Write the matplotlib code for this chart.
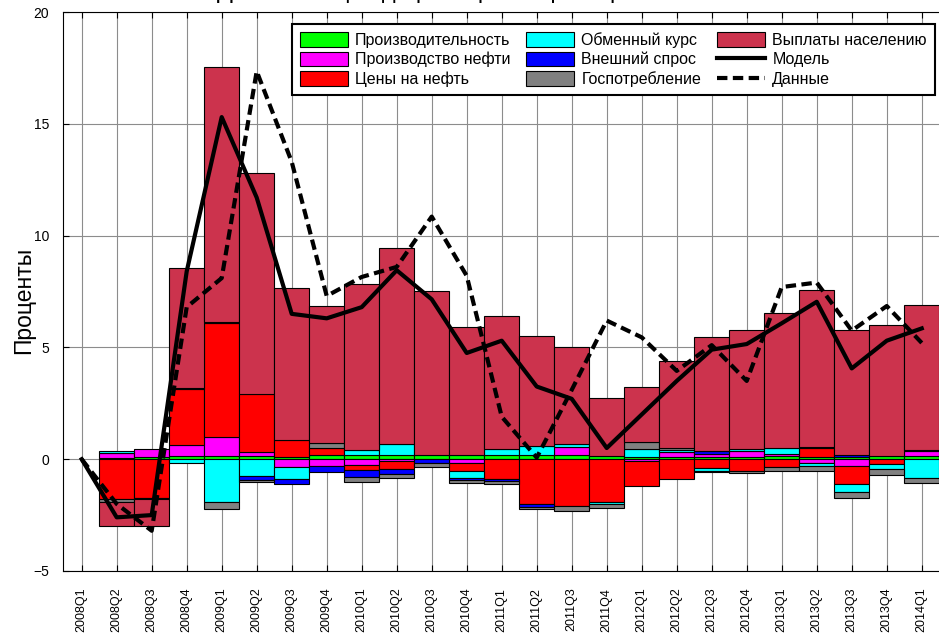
import matplotlib
matplotlib.use('Agg')
import matplotlib.pyplot as plt
import numpy as np
from matplotlib.patches import Patch
from matplotlib.lines import Line2D

FIG_W = 939
FIG_H = 633
FIG_DPI = 100

quarters = ['2008Q1', '2008Q2', '2008Q3', '2008Q4',
            '2009Q1', '2009Q2', '2009Q3', '2009Q4',
            '2010Q1', '2010Q2', '2010Q3', '2010Q4',
            '2011Q1', '2011Q2', '2011Q3', '2011Q4',
            '2012Q1', '2012Q2', '2012Q3', '2012Q4',
            '2013Q1', '2013Q2', '2013Q3', '2013Q4',
            '2014Q1']

# contributions, percent
productivity = [0, 0.04, 0.08, 0.13, 0.14, 0.13, 0.12, 0.2, 0.2, 0.2, 0.2, 0.2, 0.2,
                0.2, 0.2, 0.13, 0.12, 0.12, 0.12, 0.12, 0.13, 0.1, 0.1, 0.15, 0.15]
oil_output = [0, 0.25, 0.38, 0.5, 0.86, 0.2, -0.33, -0.31, -0.27, -0.1, 0, -0.19, 0,
              0, 0.35, 0, -0.08, 0.18, 0.13, 0.25, 0.1, -0.15, -0.31, 0, 0.22]
oil_price = [0, -1.8, -1.72, 2.5, 5.1, 2.6, 0.75, 0.31, -0.22, -0.33, 0, -0.35, -0.9,
             -2.0, -2.1, -1.9, -1.1, -0.9, -0.4, -0.53, -0.35, 0.38, -0.8, -0.22, 0]
exch_rate = [0, 0.08, 0, -0.15, -1.93, -0.76, -0.55, 0, 0.2, 0.47, 0, -0.3, 0.25,
             0.4, 0.15, -0.1, 0.35, 0.12, -0.12, 0.1, 0.27, -0.15, -0.37, -0.24, -0.85]
ext_demand = [0, 0, 0, 0.05, 0.05, -0.15, -0.24, -0.27, -0.3, -0.22, -0.15, -0.07, -0.07,
              -0.12, 0, 0, 0, 0, 0.1, 0, 0, 0.07, 0.1, 0, 0.03]
gov_cons = [0, -0.13, -0.05, 0, -0.3, -0.12, 0, 0.2, -0.22, -0.2, -0.2, -0.15, -0.15,
            -0.1, -0.2, -0.18, 0.28, 0.1, -0.05, -0.1, -0.2, -0.22, -0.27, -0.25, -0.2]
transfers = [0, -1.05, -1.23, 5.37, 11.4, 9.88, 6.8, 6.15, 7.45, 8.77, 7.3, 5.7, 5.95,
             4.9, 4.34, 2.6, 2.5, 3.87, 5.1, 5.3, 6.04, 7.02, 5.58, 5.85, 6.48]

model = [0, -2.6, -2.5, 8.4, 15.3, 11.7, 6.5, 6.3, 6.8, 8.45, 7.15, 4.75, 5.3,
         3.25, 2.7, 0.5, 2.0, 3.5, 4.9, 5.15, 6.08, 7.04, 4.06, 5.3, 5.85]
actual = [0, -2.0, -3.2, 6.8, 8.1, 17.35, 13.3, 7.3, 8.15, 8.6, 10.85, 8.2, 1.9,
          0.07, 3.1, 6.2, 5.45, 3.95, 5.1, 3.5, 7.7, 7.9, 5.75, 6.85, 5.2]

components = [
    (productivity, '#00FF00', 'Производительность'),
    (oil_output, '#FF00FF', 'Производство нефти'),
    (oil_price, '#FF0000', 'Цены на нефть'),
    (exch_rate, '#00FFFF', 'Обменный курс'),
    (ext_demand, '#0000FF', 'Внешний спрос'),
    (gov_cons, '#808080', 'Госпотребление'),
    (transfers, '#CC334D', 'Выплаты населению'),
]

plt.rcParams['font.family'] = ['Liberation Sans', 'DejaVu Sans']

fig = plt.figure(figsize=(FIG_W / FIG_DPI, FIG_H / FIG_DPI), dpi=FIG_DPI)
ax = fig.add_axes([63 / FIG_W, 1 - 571 / FIG_H, 878 / FIG_W, 559 / FIG_H])

x = np.arange(len(quarters))
pos_bottom = np.zeros(len(x))
neg_bottom = np.zeros(len(x))
handles = []
for vals, color, label in components:
    v = np.asarray(vals, dtype=float)
    pos = np.where(v > 0, v, 0)
    neg = np.where(v < 0, v, 0)
    mp = pos > 0
    mn = neg < 0
    ax.bar(x[mp], pos[mp], bottom=pos_bottom[mp], width=1.0, color=color,
           edgecolor='black', linewidth=0.8, zorder=2)
    ax.bar(x[mn], neg[mn], bottom=neg_bottom[mn], width=1.0, color=color,
           edgecolor='black', linewidth=0.8, zorder=2)
    pos_bottom += pos
    neg_bottom += neg
    handles.append(Patch(facecolor=color, edgecolor='black', linewidth=0.8, label=label))

dash = (0, (2.5, 1.3))
ax.plot(x, model, color='black', linewidth=3, zorder=5)
ax.plot(x, actual, color='black', linewidth=3, linestyle=dash, zorder=5)
handles.append(Line2D([], [], color='black', linewidth=3, label='Модель'))
handles.append(Line2D([], [], color='black', linewidth=3, linestyle=dash, label='Данные'))

ax.set_xlim(-0.534, 24.55)
ax.set_ylim(-5, 20)
ax.set_xticks(x)
ax.set_xticklabels(quarters, rotation=90, fontsize=9)
ax.set_yticks([-5, 0, 5, 10, 15, 20])
ax.tick_params(axis='y', direction='in', length=4, labelsize=10, pad=10)
ax.tick_params(axis='x', direction='in', length=4, top=True, pad=12)
ax.grid(True, color='#8c8c8c', linewidth=0.8)
ax.set_axisbelow(True)
for s in ax.spines.values():
    s.set_linewidth(0.8)

leg = ax.legend(handles=handles, ncol=3, loc='upper right',
                bbox_to_anchor=(0.993, 0.979), borderaxespad=0,
                fontsize=11.5, handlelength=3.0, handleheight=1.05,
                handletextpad=0.45, columnspacing=1.0, labelspacing=0.25,
                borderpad=0.5, fancybox=False, framealpha=1)
leg.get_frame().set_edgecolor('black')
leg.get_frame().set_linewidth(1.5)

fig.text(24 / FIG_W, 1 - 300 / FIG_H, 'Проценты', rotation=90,
         ha='center', va='center', fontsize=16.5)
# title sits above the canvas, only the very bottom of it shows
fig.text(435 / FIG_W, 1 - 3 / FIG_H, 'Декомпозиция дефлятора по факторам',
         ha='center', va='bottom', fontsize=17)

fig.savefig('out.png', dpi=FIG_DPI)
plt.close(fig)
